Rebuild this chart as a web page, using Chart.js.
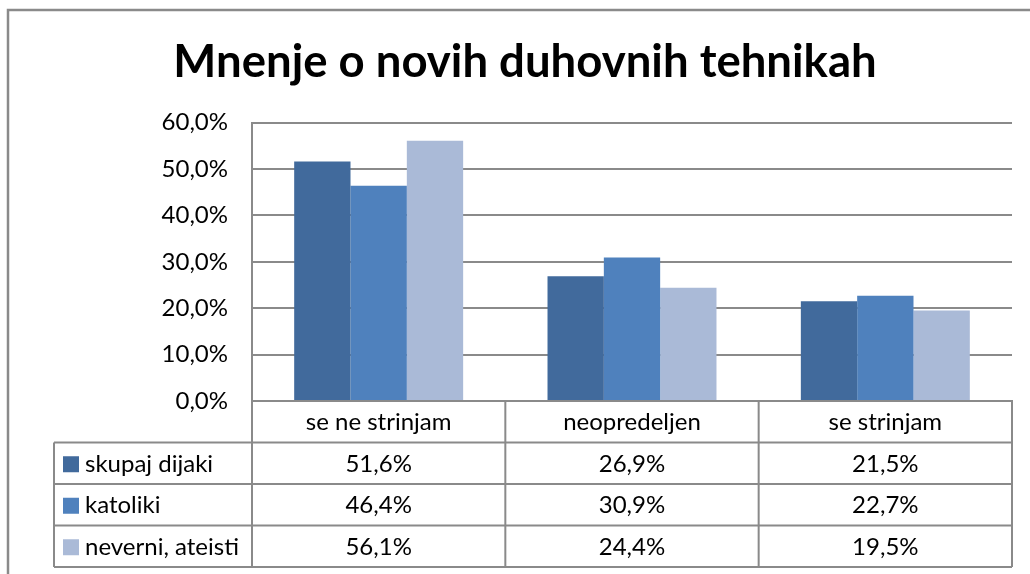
<!DOCTYPE html>
<html>
<head>
<meta charset="utf-8">
<script src="https://cdn.jsdelivr.net/npm/chart.js@4.4.1/dist/chart.umd.min.js"></script>
<style>
  html, body { margin: 0; padding: 0; background: #fff; }
  #wrap { width: 1030px; height: 574px; }
</style>
</head>
<body>
<div id="wrap"><canvas id="chart" width="1030" height="574"></canvas></div>
<script>
// podatki grafa
const categories = ['se ne strinjam', 'neopredeljen', 'se strinjam'];
const seriesNames = ['skupaj dijaki', 'katoliki', 'neverni, ateisti'];
const skupajDijaki = [51.6, 26.9, 21.5];
const katoliki = [46.4, 30.9, 22.7];
const neverniAteisti = [56.1, 24.4, 19.5];
const yMax = 60;
const yStep = 10;

const seriesColors = ['#416a9c', '#4f81bd', '#aabad7'];
const lineColor = '#8a8a8a';
const fontFamily = 'Lato, "Liberation Sans", sans-serif';

const fmt = v => v.toFixed(1).replace('.', ',') + '%';

// tabela s podatki pod grafom (Excel "data table")
const dataTablePlugin = {
    id: 'dataTable',
    afterLayout(chart) {
        // naslov je v Excelu malo bolj desno
        if (chart.titleBlock) chart.titleBlock.left += 38;
    },
    beforeDraw(chart) {
        const ctx = chart.ctx;
        ctx.save();
        ctx.strokeStyle = lineColor;
        ctx.lineWidth = 2.5;
        ctx.beginPath();
        ctx.moveTo(8, 600);
        ctx.lineTo(8, 10);
        ctx.lineTo(1040, 10);
        ctx.stroke();
        ctx.restore();
    },
    afterDraw(chart) {
        const ctx = chart.ctx;
        const xs = chart.scales.x;
        const ca = chart.chartArea;
        const top = xs.top;
        const rowH = (xs.bottom - xs.top) / 4;
        const tableLeft = 54;

        // meje stolpcev
        const cols = [ca.left];
        for (let i = 0; i < categories.length - 1; i++) {
            cols.push((xs.getPixelForValue(i) + xs.getPixelForValue(i + 1)) / 2);
        }
        cols.push(ca.right);

        ctx.save();
        ctx.strokeStyle = lineColor;
        ctx.lineWidth = 2;
        ctx.beginPath();
        // vodoravne črte
        for (let r = 1; r <= 4; r++) {
            const y = top + rowH * r;
            ctx.moveTo(tableLeft, y);
            ctx.lineTo(ca.right, y);
        }
        // navpične črte
        cols.forEach(x => {
            ctx.moveTo(x, top);
            ctx.lineTo(x, top + rowH * 4);
        });
        ctx.moveTo(tableLeft, top + rowH);
        ctx.lineTo(tableLeft, top + rowH * 4);
        ctx.stroke();

        ctx.fillStyle = '#000';
        ctx.font = '24px ' + fontFamily;
        ctx.textBaseline = 'middle';
        ctx.textAlign = 'center';
        categories.forEach((c, i) => {
            ctx.fillText(c, xs.getPixelForValue(i), top + rowH / 2 + 1);
        });

        chart.data.datasets.forEach((ds, r) => {
            const yMid = top + rowH * (r + 1.5) + 1;
            ctx.fillStyle = ds.backgroundColor;
            ctx.fillRect(tableLeft + 9, yMid - 8, 16, 16);
            ctx.fillStyle = '#000';
            ctx.textAlign = 'left';
            ctx.fillText(ds.label, tableLeft + 31, yMid);
            ctx.textAlign = 'center';
            ds.data.forEach((v, i) => {
                ctx.fillText(fmt(v), xs.getPixelForValue(i), yMid);
            });
        });
        ctx.restore();
    }
};

new Chart(document.getElementById('chart'), {
    type: 'bar',
    data: {
        labels: categories,
        datasets: [
            { label: seriesNames[0], data: skupajDijaki, backgroundColor: seriesColors[0] },
            { label: seriesNames[1], data: katoliki, backgroundColor: seriesColors[1] },
            { label: seriesNames[2], data: neverniAteisti, backgroundColor: seriesColors[2] }
        ]
    },
    options: {
        responsive: false,
        devicePixelRatio: 1,
        animation: false,
        layout: { padding: { left: 0, right: 18, top: 8, bottom: 7 } },
        datasets: { bar: { categoryPercentage: 0.667, barPercentage: 1.0 } },
        plugins: {
            legend: { display: false },
            tooltip: { enabled: false },
            title: {
                display: true,
                text: 'Mnenje o novih duhovnih tehnikah',
                color: '#000',
                font: { family: fontFamily, size: 45.5, weight: 'bold' },
                padding: { top: 27, bottom: 33 }
            }
        },
        scales: {
            x: {
                grid: { display: false },
                border: { display: true, color: lineColor, width: 2 },
                ticks: { display: false },
                afterFit(scale) { scale.height = 166; }
            },
            y: {
                min: 0,
                max: yMax,
                ticks: {
                    stepSize: yStep,
                    padding: 24,
                    color: '#000',
                    font: { family: fontFamily, size: 24 },
                    callback: v => fmt(v)
                },
                grid: { color: lineColor, lineWidth: 2, drawTicks: false },
                border: { display: true, color: lineColor, width: 2 },
                afterFit(scale) { scale.width = 252; }
            }
        }
    },
    plugins: [dataTablePlugin]
});
</script>
</body>
</html>
